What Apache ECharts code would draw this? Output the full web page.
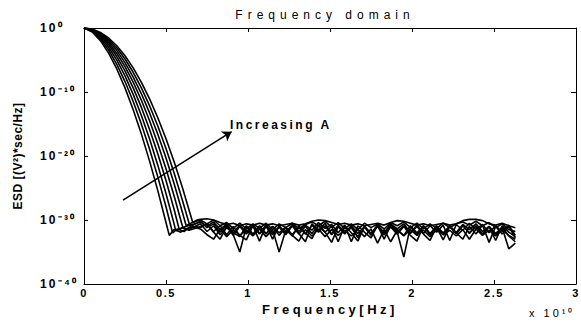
<!DOCTYPE html>
<html><head><meta charset="utf-8">
<script src="https://cdn.jsdelivr.net/npm/echarts@6/dist/echarts.min.js"></script>
<style>html,body{margin:0;padding:0;background:#fff}#c{width:581px;height:324px}</style>
</head><body><div id="c"></div>
<script>
// x in units of 1e10 Hz, y = log10(ESD)
const xTickLabels = ['0','0.5','1','1.5','2','2.5','3'];
const yTickExponents = [-40,-30,-20,-10,0];
const supDigits = {'0':'⁰','1':'¹','2':'²','3':'³','4':'⁴','5':'⁵','6':'⁶','7':'⁷','8':'⁸','9':'⁹','-':'⁻'};

const head0 = [[0,0],[0.05,-0.61],[0.1,-1.97],[0.15,-3.93],[0.2,-6.40],[0.25,-9.36],[0.3,-12.76],[0.35,-16.58],[0.4,-20.80],[0.45,-25.41],[0.5,-30.39],[0.52,-32.4],[0.55,-31.5],[0.59,-31.9],[0.63,-31.3],[0.67,-31.1]];
const head1 = [[0,0],[0.05,-0.51],[0.1,-1.70],[0.15,-3.44],[0.2,-5.67],[0.25,-8.37],[0.3,-11.49],[0.35,-15.02],[0.4,-18.95],[0.45,-23.26],[0.5,-27.94],[0.54,-32.0],[0.57,-31.4],[0.61,-31.8],[0.65,-31.0],[0.68,-30.6]];
const head2 = [[0,0],[0.05,-0.42],[0.1,-1.45],[0.15,-3.00],[0.2,-5.02],[0.25,-7.48],[0.3,-10.37],[0.35,-13.66],[0.4,-17.35],[0.45,-21.43],[0.5,-25.87],[0.55,-30.68],[0.56,-31.7],[0.6,-31.2],[0.64,-31.6],[0.68,-31.3]];
const head3 = [[0,0],[0.05,-0.35],[0.1,-1.25],[0.15,-2.63],[0.2,-4.46],[0.25,-6.71],[0.3,-9.36],[0.35,-12.41],[0.4,-15.85],[0.45,-19.66],[0.5,-23.84],[0.55,-28.39],[0.58,-31.4],[0.62,-31.0],[0.66,-30.7]];
const head4 = [[0,0],[0.05,-0.30],[0.1,-1.08],[0.15,-2.32],[0.2,-3.97],[0.25,-6.02],[0.3,-8.46],[0.35,-11.29],[0.4,-14.49],[0.45,-18.07],[0.5,-22.00],[0.55,-26.29],[0.6,-30.93],[0.605,-31.2],[0.64,-31.5],[0.68,-31.0]];
const head5 = [[0,0],[0.05,-0.25],[0.1,-0.94],[0.15,-2.04],[0.2,-3.53],[0.25,-5.41],[0.3,-7.66],[0.35,-10.28],[0.4,-13.27],[0.45,-16.61],[0.5,-20.32],[0.55,-24.37],[0.6,-28.78],[0.623,-30.9],[0.66,-30.4]];
const head6 = [[0,0],[0.05,-0.21],[0.1,-0.80],[0.15,-1.78],[0.2,-3.13],[0.25,-4.84],[0.3,-6.92],[0.35,-9.36],[0.4,-12.16],[0.45,-15.32],[0.5,-18.83],[0.55,-22.70],[0.6,-26.92],[0.643,-30.7],[0.68,-31.2]];
const head7 = [[0,0],[0.05,-0.17],[0.1,-0.69],[0.15,-1.56],[0.2,-2.77],[0.25,-4.33],[0.3,-6.23],[0.35,-8.48],[0.4,-11.08],[0.45,-14.02],[0.5,-17.31],[0.55,-20.95],[0.6,-24.93],[0.65,-29.26],[0.663,-30.4],[0.69,-30.0]];

const floorX = [0.71,0.75,0.79,0.83,0.87,0.91,0.95,0.99,1.03,1.07,1.11,1.15,1.19,1.23,1.27,1.31,1.35,1.39,1.43,1.47,1.51,1.55,1.59,1.63,1.67,1.71,1.75,1.79,1.83,1.87,1.91,1.95,1.99,2.03,2.07,2.11,2.15,2.19,2.23,2.27,2.31,2.35,2.39,2.43,2.47,2.51,2.55,2.59,2.63];
const floor0 = [-30.6,-31.8,-30.9,-32.3,-31.2,-32.0,-32.6,-30.9,-32.2,-31.0, -32.1,-31.0,-32.4,-31.2,-32.5,-30.9,-32.2,-30.8,-31.9,-30.9, -32.3,-31.0,-32.1,-31.2,-32.6,-31.0,-32.2,-30.9,-32.3,-30.8, -31.9,-35.8,-31.0,-32.3,-30.9,-32.2,-31.1,-33.1,-31.0,-32.0, -30.8,-32.1,-30.9,-32.2,-31.0,-32.4,-31.1,-32.5,-33.4];
const floor1 = [-30.2,-31.2,-30.6,-31.9,-30.8,-32.4,-31.0,-32.2,-30.9,-33.3, -30.8,-32.0,-31.1,-32.3,-30.9,-32.1,-33.4,-30.6,-31.6,-30.5, -32.2,-30.8,-32.0,-30.9,-32.8,-31.0,-32.1,-30.8,-33.0,-30.9, -31.5,-32.4,-30.9,-32.0,-31.0,-32.3,-30.9,-32.2,-31.0,-32.0, -30.7,-31.5,-30.6,-31.8,-31.0,-33.2,-30.9,-31.9,-32.6];
const floor2 = [-31.0,-30.6,-31.9,-33.0,-31.0,-32.3,-35.0,-31.0,-32.4,-30.9, -32.2,-31.0,-32.0,-31.1,-32.3,-31.0,-32.1,-32.9,-30.9,-31.9, -33.5,-31.0,-32.2,-30.9,-32.1,-31.1,-32.4,-30.9,-32.0,-31.1, -32.2,-31.0,-32.4,-33.3,-30.9,-32.1,-31.0,-32.3,-30.9,-32.0, -33.0,-31.0,-32.2,-30.8,-33.5,-31.0,-32.2,-31.0,-32.8];
const floor3 = [-30.3,-31.0,-30.3,-31.5,-30.6,-32.0,-30.8,-31.9,-30.7,-32.1, -30.8,-33.0,-30.9,-32.0,-30.7,-31.8,-30.8,-31.6,-30.4,-31.3, -30.7,-32.0,-30.8,-33.4,-30.9,-31.9,-32.8,-30.8,-32.0,-30.6, -31.4,-30.6,-32.0,-30.8,-32.1,-30.9,-31.9,-30.8,-33.2,-30.7, -31.6,-30.5,-31.5,-30.7,-32.0,-30.9,-31.8,-30.8,-32.4];
const floor4 = [-31.2,-30.6,-31.8,-30.9,-32.3,-31.0,-32.4,-33.1,-30.9,-32.2, -31.0,-32.3,-31.1,-32.0,-30.9,-32.2,-31.0,-32.1,-30.8,-31.9, -31.0,-33.4,-30.9,-32.0,-33.3,-31.0,-32.2,-30.9,-32.3,-31.0, -31.8,-30.9,-32.1,-31.0,-32.2,-33.2,-31.0,-32.0,-31.0,-32.2, -30.9,-32.0,-31.0,-32.3,-31.0,-32.1,-31.2,-34.5,-33.6];
const floor5 = [-30.0,-30.6,-30.0,-30.9,-30.4,-31.3,-30.5,-31.4,-30.6,-31.3, -30.5,-31.5,-30.6,-31.2,-30.5,-31.4,-30.7,-30.3,-30.9,-30.2, -31.1,-30.4,-31.3,-30.6,-31.5,-30.5,-31.2,-30.6,-31.4,-30.4, -30.9,-30.3,-31.2,-30.5,-31.4,-30.6,-31.3,-30.5,-31.2,-30.6, -30.3,-30.8,-30.2,-30.9,-30.4,-31.2,-30.6,-31.5,-31.8];
const floor6 = [-31.4,-32.3,-33.0,-31.4,-32.6,-31.5,-32.4,-31.6,-32.5,-31.4, -32.6,-31.5,-35.0,-31.6,-32.4,-33.3,-31.5,-32.5,-31.4,-32.6, -31.5,-32.4,-31.6,-32.5,-31.5,-32.6,-31.4,-33.6,-31.5,-33.4, -31.6,-32.5,-31.5,-32.4,-31.6,-32.6,-31.5,-32.3,-31.6,-32.5, -31.5,-33.0,-31.4,-32.4,-31.6,-32.5,-31.5,-32.4,-33.0];
const floor7 = [-29.9,-29.8,-30.0,-30.4,-30.7,-30.5,-30.9,-30.6,-30.8,-30.5, -30.8,-30.6,-30.9,-30.7,-30.5,-30.8,-30.6,-30.2,-30.0,-30.1, -30.4,-30.7,-30.5,-30.8,-30.6,-30.9,-30.7,-30.5,-30.8,-30.4, -30.1,-30.2,-30.5,-30.8,-30.6,-30.9,-30.7,-30.5,-30.8,-30.6, -30.1,-29.9,-29.9,-30.1,-30.6,-30.8,-30.5,-30.9,-31.2];

// annotation arrow (data coords)
const arrowX = [0.238, 0.9];
const arrowY = [-26.9, -16.2];

const heads = [head0,head1,head2,head3,head4,head5,head6,head7];
const floors = [floor0,floor1,floor2,floor3,floor4,floor5,floor6,floor7];

const FF = '"Liberation Sans", Arial, Helvetica, sans-serif';
const sup = (s)=>String(s).split('').map(c=>supDigits[c]||c).join('');
const chart = echarts.init(document.getElementById('c'), null, {renderer:'svg'});

const series = heads.map((h,k)=>({
  type:'line',
  data: h.concat(floorX.map((x,i)=>[x, floors[k][i]])),
  showSymbol:false, symbol:'none', silent:true, animation:false,
  lineStyle:{color:'#000', width:1.6}, itemStyle:{color:'#000'}
}));
series[0].markLine = {
  silent:true, animation:false, symbol:['none','arrow'], symbolSize:9,
  lineStyle:{color:'#000', width:1.6, type:'solid'}, label:{show:false},
  data:[[{coord:[arrowX[0],arrowY[0]]},{coord:[arrowX[1],arrowY[1]]}]]
};

const frameLine = {show:true, onZero:false, lineStyle:{color:'#000', width:1}};
const option = {
  animation:false,
  backgroundColor:'#fff',
  grid:{left:84, right:5, top:28, bottom:40, containLabel:false, outerBoundsMode:'none'},
  xAxis:[
    {type:'value', min:0, max:3, interval:0.5, position:'bottom',
     axisLine:frameLine, axisTick:{inside:true, length:4, lineStyle:{color:'#000'}},
     splitLine:{show:false},
     axisLabel:{margin:3, fontSize:11, fontWeight:'bold', color:'#000', fontFamily:FF,
       formatter:(v)=>xTickLabels[Math.round(v/0.5)]},
     name:'Frequency[Hz]', nameLocation:'middle', nameGap:12,
     nameTextStyle:{fontSize:13, fontWeight:'bold', color:'#000', fontFamily:FF}},
    {type:'value', min:0, max:3, interval:0.5, position:'top',
     axisLine:frameLine, axisTick:{inside:true, length:4, lineStyle:{color:'#000'}},
     splitLine:{show:false}, axisLabel:{show:false}}
  ],
  yAxis:[
    {type:'value', min:yTickExponents[0], max:yTickExponents[yTickExponents.length-1], interval:10, position:'left',
     axisLine:frameLine, axisTick:{inside:true, length:4, lineStyle:{color:'#000'}},
     splitLine:{show:false},
     axisLabel:{margin:44, align:'left', color:'#000', fontFamily:FF, fontSize:12, fontWeight:'bold',
       formatter:(v)=>'10'+sup(v)},
     name:'ESD [(V²)*sec/Hz]', nameLocation:'middle', nameGap:60,
     nameTextStyle:{fontSize:12, fontWeight:'bold', color:'#000', fontFamily:FF}},
    {type:'value', min:yTickExponents[0], max:yTickExponents[yTickExponents.length-1], interval:10, position:'right',
     axisLine:frameLine, axisTick:{inside:true, length:5, lineStyle:{color:'#000'}},
     splitLine:{show:false}, axisLabel:{show:false}}
  ],
  graphic:[
    {type:'text', x:325, y:15, silent:true,
     style:{text:'Frequency domain', font:'12px '+FF, fill:'#000', align:'center', verticalAlign:'middle', textAlign:'center', textVerticalAlign:'middle'}},
    {type:'text', x:230, y:125, silent:true,
     style:{text:'Increasing A', font:'bold 12px '+FF, fill:'#000', align:'left', verticalAlign:'middle', textAlign:'left', textVerticalAlign:'middle'}},
    {type:'text', x:529, y:313, silent:true,
     style:{text:'x 10'+sup(10), font:'11px '+FF, fill:'#000', align:'left', verticalAlign:'middle', textAlign:'left', textVerticalAlign:'middle'}}
  ],
  series: series
};
function spaceText(){
  document.querySelectorAll('#c svg text').forEach(t=>{
    const s = (t.textContent||'').trim();
    let ls = 1.5;
    if (s==='Frequency domain') ls = 5;
    else if (s==='Frequency[Hz]') ls = 3.5;
    else if (s==='Increasing A') ls = 2.5;
    else if (s.indexOf('ESD')===0) ls = 0.5;
    else if (s.indexOf('x 10')===0) ls = 3;
    else if (s.indexOf('10')===0) ls = 2.2;
    t.style.letterSpacing = ls+'px';
  });
}
chart.on('finished', spaceText);
chart.setOption(option);
spaceText();
setTimeout(spaceText, 50);
</script></body></html>
